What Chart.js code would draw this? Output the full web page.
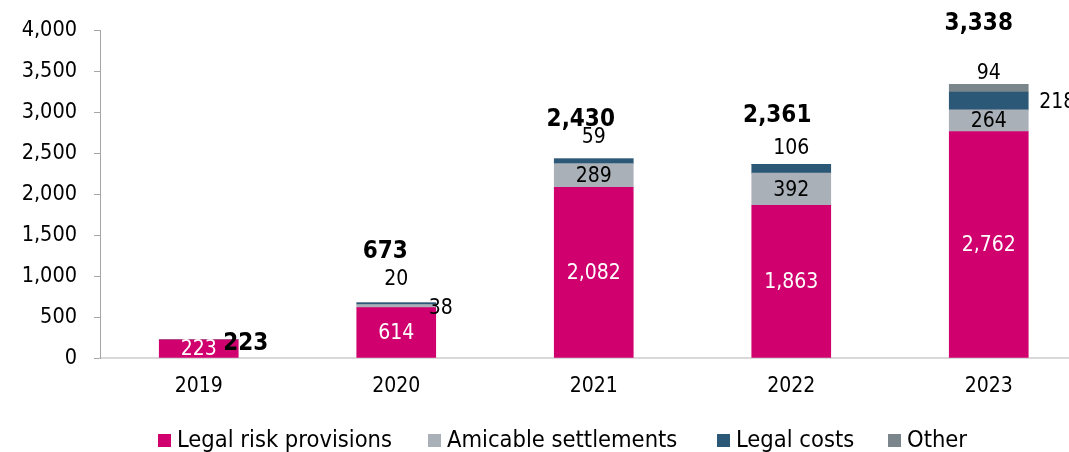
<!DOCTYPE html>
<html>
<head>
<meta charset="utf-8">
<script src="https://cdn.jsdelivr.net/npm/chart.js@4.4.0/dist/chart.umd.min.js"></script>
<style>
html,body{margin:0;padding:0;overflow:hidden;background:#fff;}
#wrap{position:relative;width:1100px;height:452px;}
</style>
</head>
<body>
<div id="wrap"><canvas id="c"></canvas></div>
<script>
// ---------- DATA ----------
const categories = ['2019', '2020', '2021', '2022', '2023'];
const seriesNames = ['Legal risk provisions', 'Amicable settlements', 'Legal costs', 'Other'];
const legalRiskProvisions = [223, 614, 2082, 1863, 2762];
const amicableSettlements = [0, 38, 289, 392, 264];
const legalCosts = [0, 20, 59, 106, 218];
const other = [0, 0, 0, 0, 94];
const totals = [223, 673, 2430, 2361, 3338];
const yTickValues = [0, 500, 1000, 1500, 2000, 2500, 3000, 3500, 4000];

// ---------- STYLE / LAYOUT ----------
const FONT = '"DejaVu Sans Condensed", "DejaVu Sans", sans-serif';
const colors = ['#D0006F', '#A9B0B7', '#2C5877', '#7B858C'];
const labelColors = ['#ffffff', '#000000', '#000000', '#000000'];
// label placement per series per category
const labelPlacement = [
  [{at:'in'}, {at:'in'}, {at:'in'}, {at:'in'}, {at:'in'}],
  [null, {at:'right', dx:-7, dy:2}, {at:'in'}, {at:'in'}, {at:'in'}],
  [null, {at:'top', dy:-23}, {at:'top', dy:-21}, {at:'top', dy:-16}, {at:'right', dx:11, dy:2}],
  [null, null, null, null, {at:'top', dy:-11}]
];
const totalPlacement = [
  {at:'right', dx:-15, dy:4},
  {at:'top', dx:-11, dy:-51},
  {at:'top', dx:-13, dy:-39},
  {at:'top', dx:-14, dy:-49},
  {at:'top', dx:-10, dy:-61}
];
const legendX = [158, 428, 717, 888];

const fmt = v => v.toLocaleString('en-US');

const seriesData = [legalRiskProvisions, amicableSettlements, legalCosts, other];

const dataLabelPlugin = {
  id: 'dataLabels',
  afterDatasetsDraw(chart) {
    const ctx = chart.ctx;
    ctx.save();
    ctx.textBaseline = 'middle';
    chart.data.datasets.forEach((ds, di) => {
      const meta = chart.getDatasetMeta(di);
      meta.data.forEach((bar, i) => {
        const v = ds.data[i];
        const p = labelPlacement[di][i];
        if (!v || !p) return;
        const top = Math.min(bar.y, bar.base), bot = Math.max(bar.y, bar.base);
        ctx.font = '21px ' + FONT;
        ctx.fillStyle = labelColors[di];
        if (p.at === 'in') {
          ctx.textAlign = 'center';
          ctx.fillText(fmt(v), bar.x, (top + bot) / 2 + 1);
        } else if (p.at === 'top') {
          ctx.fillStyle = '#000';
          ctx.textAlign = 'center';
          ctx.fillText(fmt(v), bar.x + (p.dx || 0), top + p.dy);
        } else if (p.at === 'right') {
          ctx.fillStyle = '#000';
          ctx.textAlign = 'left';
          ctx.fillText(fmt(v), bar.x + bar.width / 2 + p.dx, (top + bot) / 2 + p.dy);
        }
      });
    });
    // totals
    const lastMeta = chart.getDatasetMeta(0);
    ctx.font = 'bold 24px ' + FONT;
    ctx.fillStyle = '#000';
    totals.forEach((t, i) => {
      const x = lastMeta.data[i].x;
      const w = lastMeta.data[i].width;
      const yTop = chart.scales.y.getPixelForValue(t);
      const p = totalPlacement[i];
      if (p.at === 'right') {
        ctx.textAlign = 'left';
        ctx.fillText(fmt(t), x + w / 2 + p.dx, yTop + p.dy);
      } else {
        ctx.textAlign = 'center';
        ctx.fillText(fmt(t), x + p.dx, yTop + p.dy);
      }
    });
    ctx.restore();
  }
};

const legendPlugin = {
  id: 'customLegend',
  afterDraw(chart) {
    const ctx = chart.ctx;
    ctx.save();
    ctx.font = '23.5px ' + FONT;
    ctx.textBaseline = 'middle';
    ctx.textAlign = 'left';
    chart.data.datasets.forEach((ds, i) => {
      ctx.fillStyle = ds.backgroundColor;
      ctx.fillRect(legendX[i], 434, 13, 13);
      ctx.fillStyle = '#000';
      ctx.fillText(ds.label, legendX[i] + 19, 441);
    });
    ctx.restore();
  }
};

new Chart(document.getElementById('c'), {
  type: 'bar',
  data: {
    labels: categories,
    datasets: seriesNames.map((n, i) => ({
      label: n,
      data: seriesData[i],
      backgroundColor: colors[i],
      borderWidth: 0,
      barThickness: 79
    }))
  },
  options: {
    responsive: true,
    maintainAspectRatio: false,
    animation: false,
    layout: { padding: { left: 0, right: 12.5, top: 30, bottom: 0 } },
    plugins: { legend: { display: false }, tooltip: { enabled: false } },
    scales: {
      x: {
        stacked: true,
        grid: { display: false, drawTicks: false },
        border: { display: true, color: '#D9D9D9', width: 2 },
        ticks: { color: '#000', font: { family: FONT, size: 21 }, padding: 16 },
        afterFit: s => { s.height = 94; }
      },
      y: {
        stacked: true,
        min: 0, max: 4000,
        afterBuildTicks: s => { s.ticks = yTickValues.map(v => ({ value: v })); },
        grid: { display: true, drawOnChartArea: false, drawTicks: true, tickLength: 6, color: '#A6A6A6' },
        border: { display: true, color: '#A6A6A6', width: 1 },
        ticks: { color: '#000', font: { family: FONT, size: 21.5 }, padding: 17, callback: v => fmt(v) },
        afterFit: s => { s.width = 100; }
      }
    }
  },
  plugins: [dataLabelPlugin, legendPlugin]
});
</script>
</body>
</html>
